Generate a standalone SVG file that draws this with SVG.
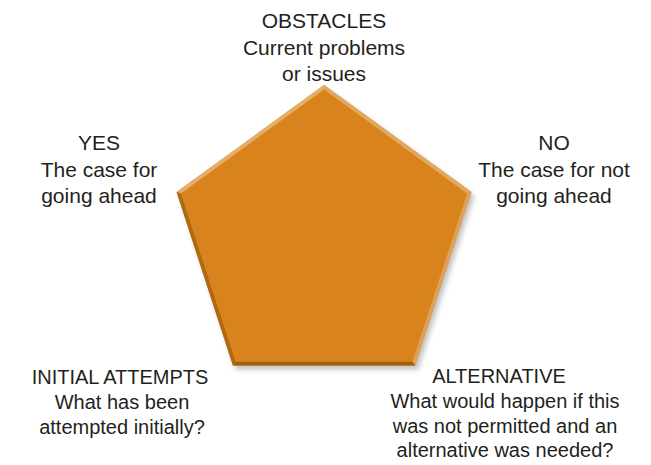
<svg xmlns="http://www.w3.org/2000/svg" width="651" height="465" viewBox="0 0 651 465">
  <defs>
    <filter id="soft-shadow" x="-10%" y="-10%" width="120%" height="120%">
      <feGaussianBlur stdDeviation="2.5"/>
    </filter>
    <style>
      .lbl { font-family: "Liberation Sans", Arial, Helvetica, sans-serif; fill: #231f20; text-anchor: middle; }
      .top { font-size: 21px; }
      .bot { font-size: 20px; }
      .face { fill: #d9831d; }
      .hi1 { fill: #e6ae6c; }
      .hi2 { fill: #e2a862; }
      .hi3 { fill: #dda257; }
      .lo1 { fill: #9e6112; }
      .lo2 { fill: #ad6916; }
    </style>
  </defs>

  <rect width="651" height="465" fill="#ffffff"/>

  <!-- central bevelled pentagon -->
  <g id="pentagon">
    <polygon points="324,85 471.41,192.1 415.11,365.4 232.89,365.4 176.59,192.1"
             transform="translate(3,4)" fill="#7a7a7a" opacity="0.45" filter="url(#soft-shadow)"/>
    <polygon class="face" points="324,85 471.41,192.1 415.11,365.4 232.89,365.4 176.59,192.1"/>
    <!-- bevel strips, lit from the upper left -->
    <polygon class="hi1" points="176.59,192.1 324,85 324,89.5 180.87,193.49"/>
    <polygon class="hi2" points="324,85 471.41,192.1 467.13,193.49 324,89.5"/>
    <polygon class="hi3" points="471.41,192.1 415.11,365.4 412.46,361.76 467.13,193.49"/>
    <polygon class="lo1" points="415.11,365.4 232.89,365.4 235.54,361.76 412.46,361.76"/>
    <polygon class="lo2" points="232.89,365.4 176.59,192.1 180.87,193.49 235.54,361.76"/>
  </g>

  <g id="obstacles">
    <text class="lbl top" x="324" y="28">OBSTACLES</text>
    <text class="lbl top" x="324" y="54.5">Current problems</text>
    <text class="lbl top" x="324" y="81">or issues</text>
  </g>

  <g id="yes">
    <text class="lbl top" x="99" y="150">YES</text>
    <text class="lbl top" x="99" y="176.5">The case for</text>
    <text class="lbl top" x="99" y="203">going ahead</text>
  </g>

  <g id="no">
    <text class="lbl top" x="554" y="150">NO</text>
    <text class="lbl top" x="554" y="176.5">The case for not</text>
    <text class="lbl top" x="554" y="203">going ahead</text>
  </g>

  <g id="initial-attempts">
    <text class="lbl bot" x="120" y="384">INITIAL ATTEMPTS</text>
    <text class="lbl bot" x="122" y="409">What has been</text>
    <text class="lbl bot" x="122" y="434">attempted initially?</text>
  </g>

  <g id="alternative">
    <text class="lbl bot" x="499" y="383">ALTERNATIVE</text>
    <text class="lbl bot" x="505" y="408">What would happen if this</text>
    <text class="lbl bot" x="505" y="432.5">was not permitted and an</text>
    <text class="lbl bot" x="505" y="457">alternative was needed?</text>
  </g>
</svg>
